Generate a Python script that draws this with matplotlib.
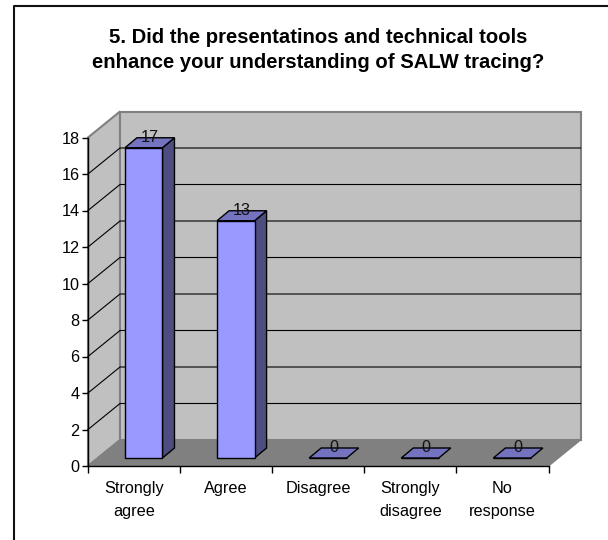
import matplotlib
matplotlib.use("Agg")
import matplotlib.pyplot as plt
from matplotlib.lines import Line2D

categories = ["Strongly\nagree", "Agree", "Disagree", "Strongly\ndisagree", "No\nresponse"]
counts = [17, 13, 0, 0, 0]
y_ticks = list(range(0, 20, 2))
title = "5. Did the presentatinos and technical tools\nenhance your understanding of SALW tracing?"

W, H = 608, 540
plt.rcParams["font.family"] = ["Liberation Sans", "DejaVu Sans"]

fig = plt.figure(figsize=(W / 100, H / 100), dpi=100, facecolor="white")
# front edge of the chart box, in pixels
left, right, top, bottom = 88, 548.5, 137.5, 466
ax = fig.add_axes([left / W, 1 - bottom / H, (right - left) / W, (bottom - top) / H])
ax.set_xlim(0, len(categories))
ax.set_ylim(0, 18)
ax.patch.set_visible(False)

# pixels to data units, for the fake 3d depth
px = len(categories) / (right - left)
py = 18 / (bottom - top)
dx, dy = 32 * px, 26 * py      # depth of the box
bx, by = 12 * px, 10 * py      # depth of a bar
gap_y = 8 * py                 # bar front sits a bit behind the axis
bar_w = 37.5 * px
bar_x = [i + 0.605 for i in range(len(categories))]
xmax = len(categories)

# walls and floor
ax.fill([0, dx, dx, 0], [0, dy, 18 + dy, 18], fc="#c0c0c0", ec="#808080", lw=1.5, clip_on=False, zorder=1)
ax.fill([dx, xmax + dx, xmax + dx, dx], [dy, dy, 18 + dy, 18 + dy], fc="#c0c0c0", ec="#808080", lw=1.5, clip_on=False, zorder=1)
ax.fill([0, xmax, xmax + dx, dx], [0, 0, dy, dy], fc="#808080", ec="#808080", lw=1, clip_on=False, zorder=2)

# gridlines go along the left wall then the back wall
for t in y_ticks[1:-1]:
    ax.plot([0, dx, xmax + dx], [t, t + dy, t + dy], color="black", lw=0.8, clip_on=False, zorder=3)

# bars
for x, v in zip(bar_x, counts):
    x0, x1 = x - bar_w / 2, x + bar_w / 2
    y0, y1 = gap_y, v + gap_y
    ax.bar(x, v, bar_w, bottom=gap_y, color="#9999ff", edgecolor="black", lw=1, zorder=5, clip_on=False)
    if v > 0:
        ax.fill([x1, x1 + bx, x1 + bx, x1], [y0, y0 + by, y1 + by, y1], fc="#4d4d80", ec="black", lw=1, zorder=4, clip_on=False)
    ax.fill([x0, x1, x1 + bx, x0 + bx], [y1, y1, y1 + by, y1 + by], fc="#7373bf", ec="black", lw=1, zorder=5, clip_on=False)
    ax.text(x + bx / 2, y1 + by, str(v), ha="center", va="center", fontsize=11.7, color="#111111", zorder=6, clip_on=False)

for s in ["top", "right"]:
    ax.spines[s].set_visible(False)
for s in ["left", "bottom"]:
    ax.spines[s].set_linewidth(1)
    ax.spines[s].set_zorder(7)

ax.set_yticks(y_ticks)
ax.tick_params(axis="y", length=4, width=1, pad=2, labelsize=11.7)
ax.set_xticks(range(len(categories) + 1))
ax.set_xticklabels([])
ax.tick_params(axis="x", which="major", length=5, width=1)
ax.set_xticks([i + 0.5 for i in range(len(categories))], minor=True)
ax.set_xticklabels(categories, minor=True, fontsize=11.7, linespacing=1.7)
ax.tick_params(axis="x", which="minor", length=0, pad=10.5)

fig.text(318 / W, 1 - 50 / H, title, ha="center", va="center", fontsize=14.6, fontweight="bold", linespacing=1.4)

# chart border, only left and top fall inside the crop
fig.add_artist(Line2D([14 / W, 14 / W, 1], [0, 1 - 5.5 / H, 1 - 5.5 / H], color="#111111", lw=1.5))

fig.savefig("out.png", dpi=100)
